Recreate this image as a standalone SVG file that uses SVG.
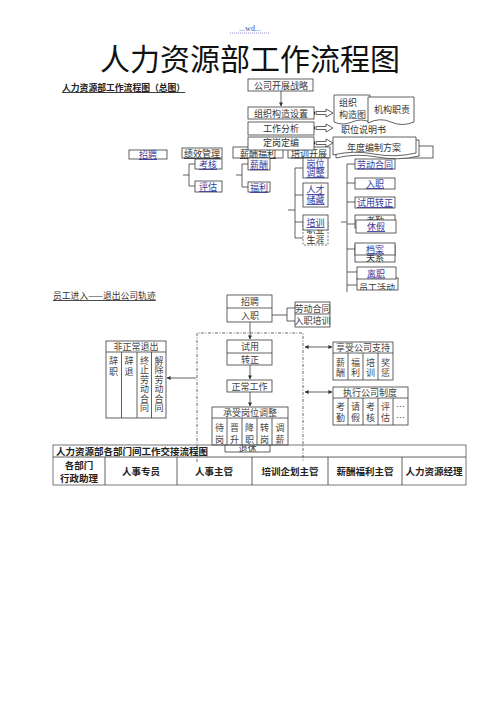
<svg xmlns="http://www.w3.org/2000/svg" width="500" height="707" viewBox="0 0 500 707">
<defs>
<style>
.bg{fill:#fff}
.b{fill:#fff;stroke:#3a3a3a;stroke-width:0.8}
.bd{fill:#fff;stroke:#555;stroke-width:0.8;stroke-dasharray:2 1.5}
.ln{fill:none;stroke:#3a3a3a;stroke-width:0.8}
.dd{fill:none;stroke:#444;stroke-width:0.8;stroke-dasharray:3 1.5 1 1.5}
.t{font-family:"Noto Sans CJK SC",sans-serif;font-size:9px;fill:#333;text-anchor:middle}
.tl{font-family:"Noto Sans CJK SC",sans-serif;font-size:9px;fill:#333}
.lk{fill:#3a3a9c;text-decoration:underline}
.u{text-decoration:underline}
.s{font-family:"Noto Sans CJK SC",sans-serif;font-size:9px;fill:#444;text-anchor:middle}
.tb{font-family:"Noto Sans CJK SC",sans-serif;font-size:9.5px;font-weight:bold;fill:#222;text-anchor:middle}
</style>
<marker id="ah" viewBox="0 0 10 10" refX="9" refY="5" markerWidth="5" markerHeight="5" orient="auto-start-reverse">
<path d="M0,0 L10,5 L0,10 Z" fill="#333"/>
</marker>
<clipPath id="c1"><rect x="354" y="279" width="46" height="11"/></clipPath>
<clipPath id="c2"><rect x="220" y="445" width="55" height="7"/></clipPath>
<clipPath id="c3"><rect x="354" y="214" width="44" height="6"/></clipPath>
<clipPath id="c4"><rect x="354" y="255" width="44" height="8"/></clipPath>
<clipPath id="c5"><rect x="302" y="230" width="28" height="4"/></clipPath>
</defs>
<rect class="bg" x="0" y="0" width="500" height="707"/>

<g id="header">
<text x="250" y="31" font-family="Liberation Serif, serif" font-size="8" fill="#4a4aa8" text-anchor="middle">...wd...</text>
<line x1="230" y1="33" x2="270" y2="33" stroke="#4a4aa8" stroke-width="0.6" stroke-dasharray="1 1"/>
<text x="250" y="70" font-family="Noto Sans CJK SC,sans-serif" font-size="30" fill="#111" text-anchor="middle">人力资源部工作流程图</text>
<text x="62" y="91" font-family="Noto Sans CJK SC,sans-serif" font-size="8.8" font-weight="bold" fill="#222" text-decoration="underline">人力资源部工作流程图（总图）</text>
</g>

<g id="connectors">
<line class="ln" x1="281" y1="91" x2="281" y2="106" marker-end="url(#ah)"/>
<rect x="312" y="111.5" width="3" height="3" fill="#333"/>
<polygon class="b" points="316,111.5 326,111.5 326,109 333,113 326,117 326,114.5 316,114.5"/>
<rect x="312" y="126.5" width="3" height="3" fill="#333"/>
<polygon class="b" points="316,126.5 326,126.5 326,124 333,128 326,132 326,129.5 316,129.5"/>
<rect x="312" y="141.5" width="3" height="3" fill="#333"/>
<polygon class="b" points="316,141.5 326,141.5 326,139 333,143 326,147 326,144.5 316,144.5"/>
<path class="ln" d="M195,164 H189 V186 H195 M183,175 H189"/>
<path class="ln" d="M248,164 H242 V187 H248 M236,175 H242"/>
<path class="ln" d="M303,168 H295 V238 H303 M303,195 H295 M303,222 H295 M288,210 H295"/>
<path class="ln" d="M347,164 V292 M347,164 H355 M347,183 H355 M347,202 H355 M347,224 H356 M347,249 H355 M347,272 H357 M347,285 H357 M341,222 H347"/>
<line class="ln" x1="250" y1="322" x2="250" y2="339" marker-end="url(#ah)"/>
<path class="ln" d="M272,315 H287 M287,308 V321 M287,308 H295 M287,321 H295"/>
<line class="ln" x1="250" y1="365" x2="250" y2="379" marker-end="url(#ah)"/>
<line class="ln" x1="250" y1="392" x2="250" y2="406" marker-end="url(#ah)"/>
<path class="dd" d="M197,462 V333 H303 V462"/>
<line class="ln" x1="196" y1="378" x2="167" y2="378" marker-end="url(#ah)"/>
<line class="ln" x1="305" y1="347" x2="332" y2="347" marker-start="url(#ah)" marker-end="url(#ah)"/>
<line class="ln" x1="305" y1="392" x2="332" y2="392" marker-start="url(#ah)" marker-end="url(#ah)"/>
</g>

<g id="n-docs">
<path class="b" d="M334,95 H370 V122 Q361,118 352,122 T334,122 Z"/>
<text class="tl" x="339" y="106">组织</text>
<text class="tl" x="339" y="118">构造图</text>
<path class="b" d="M368,97 H414 V122 Q402,127 391,122 T368,123 Z"/>
<text class="t" x="392" y="113">机构职责</text>
<text class="tl" x="341" y="133">职位说明书</text>
<rect class="b" x="400" y="146" width="33" height="12"/>
<text class="tl" x="405" y="156">......</text>
<path class="b" d="M336,140 H419 V156 Q398,161 377,157 T336,158 Z"/>
<path class="b" d="M333,137 H416 V153 Q395,158 374,154 T333,155 Z"/>
<text class="t" x="374" y="151">年度编制方案</text>
</g>

<g id="n-mid">
<rect class="b" x="129" y="150" width="38" height="9"/>
<text class="t lk" x="148" y="158">招聘</text>
<rect class="b" x="182" y="148" width="40" height="10"/>
<text class="t u" x="202" y="157">绩效管理</text>
<rect class="b" x="195" y="159" width="27" height="10"/>
<text class="t lk" x="208" y="168">考核</text>
<rect class="b" x="195" y="181" width="27" height="11"/>
<text class="t lk" x="208" y="190">评估</text>
<rect class="b" x="233" y="147" width="50" height="11"/>
<text class="t u" x="258" y="157">薪酬福利</text>
<rect class="b" x="288" y="147" width="42" height="11"/>
<text class="t u" x="309" y="156.5">培训开展</text>
<rect class="b" x="248" y="158" width="22" height="12"/>
<text class="t lk" x="259" y="168">薪酬</text>
<rect class="b" x="248" y="182" width="22" height="10"/>
<text class="t lk" x="259" y="191">福利</text>
</g>

<g id="n-top">
<rect class="b" x="248" y="79" width="65" height="12"/>
<text class="t" x="281" y="88.5">公司开展战略</text>
<rect class="b" x="248" y="107" width="66" height="12"/>
<text class="t" x="281" y="116.5">组织构造设置</text>
<rect class="b" x="248" y="122" width="66" height="13"/>
<text class="t" x="281" y="132">工作分析</text>
<rect class="b" x="248" y="137" width="66" height="13"/>
<text class="t" x="281" y="146">定岗定编</text>
</g>

<g id="n-train">
<rect class="b" x="303" y="158" width="25" height="20"/>
<text class="t lk" x="315.5" y="166.5">岗位</text>
<text class="t lk" x="315.5" y="176">调整</text>
<rect class="b" x="303" y="183" width="25" height="24"/>
<text class="t lk" x="315.5" y="193">人才</text>
<text class="t lk" x="315.5" y="203">储藏</text>
<rect class="bd" x="303" y="222" width="25" height="23"/>
<text class="t" x="315.5" y="233" clip-path="url(#c5)">职业</text>
<text class="t" x="315.5" y="243">生涯</text>
<rect class="b" x="303" y="215" width="25" height="15"/>
<text class="t lk" x="315.5" y="226">培训</text>
</g>

<g id="n-right">
<rect class="b" x="355" y="159" width="40" height="10"/>
<text class="t lk" x="375" y="167.5">劳动合同</text>
<rect class="b" x="355" y="178" width="40" height="11"/>
<text class="t lk" x="375" y="187">入职</text>
<rect class="b" x="355" y="197" width="40" height="11"/>
<text class="t lk" x="375" y="206">试用转正</text>
<rect class="b" x="355" y="215" width="40" height="13"/>
<text class="t" x="375" y="224" clip-path="url(#c3)">考勤</text>
<rect class="b" x="356" y="220" width="40" height="13"/>
<text class="t lk" x="376" y="230">休假</text>
<rect class="b" x="355" y="245" width="40" height="17"/>
<text class="t" x="375" y="261" clip-path="url(#c4)">关系</text>
<rect class="b" x="355" y="243" width="40" height="12"/>
<text class="t lk" x="375" y="252.5">档案</text>
<rect class="b" x="357" y="278" width="41" height="12"/>
<text class="t" x="377" y="291" clip-path="url(#c1)">员工活动</text>
<rect class="b" x="357" y="267" width="39" height="12"/>
<text class="t lk" x="376" y="276.5">离职</text>
</g>

<g id="n-track-title">
<text x="53" y="299" font-family="Noto Sans CJK SC,sans-serif" font-size="8.8" fill="#333" text-decoration="underline">员工进入——退出公司轨迹</text>
</g>

<g id="n-hire">
<rect class="b" x="227" y="295" width="45" height="27"/>
<line class="ln" x1="227" y1="308" x2="272" y2="308"/>
<text class="s" x="250" y="305">招聘</text>
<text class="s" x="250" y="318.5">入职</text>
</g>
<g id="n-contract">
<rect class="b" x="295" y="302" width="35" height="25"/>
<line class="ln" x1="295" y1="314" x2="330" y2="314"/>
<text class="s" x="312.5" y="311.5">劳动合同</text>
<text class="s" x="312.5" y="324">入职培训</text>
</g>
<g id="n-trial">
<rect class="b" x="227" y="340" width="45" height="25"/>
<line class="ln" x1="227" y1="353" x2="272" y2="353"/>
<text class="s" x="250" y="350">试用</text>
<text class="s" x="250" y="362.5">转正</text>
</g>
<g id="n-work">
<rect class="b" x="227" y="380" width="45" height="12"/>
<text class="s" x="249.5" y="389.5">正常工作</text>
</g>
<g id="n-adjust">
<rect class="b" x="212" y="407" width="76" height="38"/>
<line class="ln" x1="212" y1="418" x2="288" y2="418"/>
<path class="ln" d="M227,418 V445 M242,418 V445 M257,418 V445 M272,418 V445"/>
<text class="s" x="250" y="416">承受岗位调整</text>
<text class="s" x="219.5" y="431">待</text><text class="s" x="219.5" y="443">岗</text>
<text class="s" x="234.5" y="431">晋</text><text class="s" x="234.5" y="443">升</text>
<text class="s" x="249.5" y="431">降</text><text class="s" x="249.5" y="443">职</text>
<text class="s" x="264.5" y="431">转</text><text class="s" x="264.5" y="443">岗</text>
<text class="s" x="280" y="431">调</text><text class="s" x="280" y="443">薪</text>
</g>

<g id="n-abnormal">
<rect class="b" x="106" y="341" width="60" height="77"/>
<line class="ln" x1="106" y1="352" x2="166" y2="352"/>
<path class="ln" d="M121.5,352 V418 M137,352 V418 M151.5,352 V418"/>
<text class="s" x="136" y="350">非正常退出</text>
<text class="s" x="113.5" y="363.5">辞</text><text class="s" x="113.5" y="374.5">职</text>
<text class="s" x="129" y="363.5">辞</text><text class="s" x="129" y="374.5">退</text>
<text class="s" x="144.5" y="363.5">终</text><text class="s" x="144.5" y="373">止</text><text class="s" x="144.5" y="382.5">劳</text><text class="s" x="144.5" y="392">动</text><text class="s" x="144.5" y="401.5">合</text><text class="s" x="144.5" y="411">同</text>
<text class="s" x="159" y="363.5">解</text><text class="s" x="159" y="373">除</text><text class="s" x="159" y="382.5">劳</text><text class="s" x="159" y="392">动</text><text class="s" x="159" y="401.5">合</text><text class="s" x="159" y="411">同</text>
</g>

<g id="n-support">
<rect class="b" x="333" y="342" width="60" height="38"/>
<line class="ln" x1="333" y1="353" x2="393" y2="353"/>
<path class="ln" d="M348,353 V380 M363,353 V380 M378,353 V380"/>
<text class="s" x="363" y="351">享受公司支持</text>
<text class="s" x="340.5" y="365.5">薪</text><text class="s" x="340.5" y="376">酬</text>
<text class="s" x="355.5" y="365.5">福</text><text class="s" x="355.5" y="376">利</text>
<text class="s" x="370.5" y="365.5">培</text><text class="s" x="370.5" y="376">训</text>
<text class="s" x="385.5" y="365.5">奖</text><text class="s" x="385.5" y="376">惩</text>
</g>

<g id="n-rules">
<rect class="b" x="333" y="387" width="75" height="38"/>
<line class="ln" x1="333" y1="398" x2="408" y2="398"/>
<path class="ln" d="M348,398 V425 M363,398 V425 M378,398 V425 M393,398 V425"/>
<text class="s" x="370" y="396">执行公司制度</text>
<text class="s" x="340.5" y="410">考</text><text class="s" x="340.5" y="421">勤</text>
<text class="s" x="355.5" y="410">请</text><text class="s" x="355.5" y="421">假</text>
<text class="s" x="370.5" y="410">考</text><text class="s" x="370.5" y="421">核</text>
<text class="s" x="385.5" y="410">评</text><text class="s" x="385.5" y="421">估</text>
<text class="s" x="400.5" y="410">…</text><text class="s" x="400.5" y="421">…</text>
</g>

<g id="n-table">
<rect fill="none" stroke="#555" stroke-width="0.8" x="53" y="445" width="413" height="40"/>
<line class="ln" x1="53" y1="457" x2="466" y2="457"/>
<path class="ln" d="M105,457 V485 M177,457 V485 M252,457 V485 M328,457 V485 M402,457 V485"/>
<text x="56" y="455" font-family="Noto Sans CJK SC,sans-serif" font-size="9.5" font-weight="bold" fill="#222">人力资源部各部门间工作交接流程图</text>
<text class="tb" x="79" y="469">各部门</text>
<text class="tb" x="79" y="482">行政助理</text>
<text class="tb" x="141" y="475">人事专员</text>
<text class="tb" x="214" y="475">人事主管</text>
<text class="tb" x="290" y="475">培训企划主管</text>
<text class="tb" x="365" y="475">薪酬福利主管</text>
<text class="tb" x="434" y="475">人力资源经理</text>
</g>

<g id="n-retire">
<path class="ln" d="M225,445 V452 H270 V445"/>
<text class="s" x="247.5" y="452" font-size="8" clip-path="url(#c2)">退休</text>
</g>
</svg>
